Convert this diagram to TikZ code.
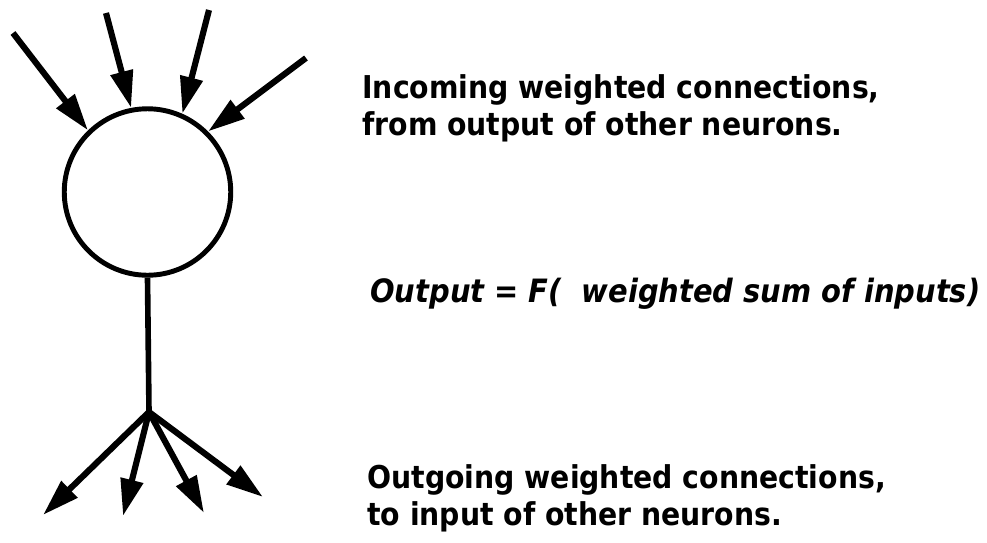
\documentclass[tikz,border=0pt]{standalone}
\usepackage{fontspec}
\setmainfont{DejaVu Sans}
\newfontfamily\notefont{DejaVu Sans Condensed}
\usetikzlibrary{arrows.meta}

\begin{document}
\begin{tikzpicture}[x=0.02cm,y=-0.02cm,
        cell/.style={circle,draw,line width=2.8pt,minimum size=3.33cm,inner sep=0pt},
        wire/.style={line width=3.5pt,-{Triangle[length=0.74cm,width=0.44cm]}},
        note/.style={anchor=north west,inner sep=0pt,align=left,font=\notefont\bfseries\fontsize{17.9pt}{21pt}\selectfont}]
        \useasboundingbox (0,0) rectangle (987,542);
        \node[cell](n) at (147.5,192) {};
        % inputs
        \coordinate(i1) at (13,33);
        \coordinate(i2) at (106,13);
        \coordinate(i3) at (209,10);
        \coordinate(i4) at (306,58);
        \draw[wire](i1)--(n.134);
        \draw[wire](i2)--(n.101);
        \draw[wire](i3)--(n.66);
        \draw[wire](i4)--(n.45);
        % axon and outputs
        \coordinate(s) at (149,412);
        \coordinate(o1) at (43,515);
        \coordinate(o2) at (123,516);
        \coordinate(o3) at (204,513);
        \coordinate(o4) at (263,497);
        \draw[line width=3.2pt](n.south)--(s);
        \draw[wire](s)--(o1);
        \draw[wire](s)--(o2);
        \draw[wire](s)--(o3);
        \draw[wire](s)--(o4);
        % labels
        \node[note](in) at (362,74) {Incoming weighted connections,\\from output of other neurons.};
        \node[note,anchor=base west,font=\notefont\bfseries\itshape\fontsize{18.3pt}{21pt}\selectfont](f) at (370,302) {Output = F(\ \ weighted sum of inputs)};
        \node[note](out) at (367,464) {Outgoing weighted connections,\\to input of other neurons.};
\end{tikzpicture}
\end{document}
